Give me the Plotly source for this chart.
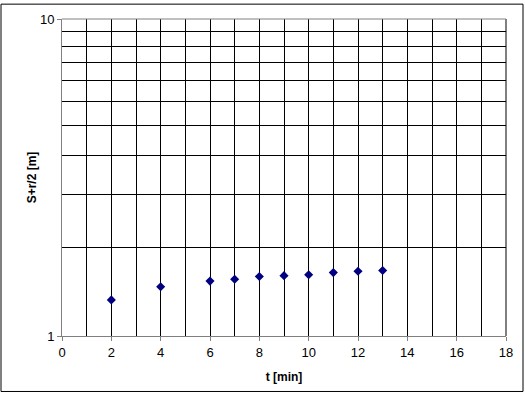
import plotly.graph_objects as go

t_min = [2, 4, 6, 7, 8, 9, 10, 11, 12, 13]
s_val = [1.30, 1.43, 1.49, 1.51, 1.54, 1.55, 1.56, 1.585, 1.60, 1.61]
x_ticks = [0, 2, 4, 6, 8, 10, 12, 14, 16, 18]
y_ticks = [1, 10]
y_minor = [1.9, 2.8, 3.7, 4.6, 5.5, 6.4, 7.3, 8.2, 9.1]

fig = go.Figure()
fig.add_trace(go.Scatter(
    x=t_min, y=s_val, mode="markers",
    marker=dict(symbol="diamond", size=7, color="#000080"),
    showlegend=False,
))

W, H = 525, 394
L, R, T, B = 62, 19, 16, 58
pw, ph = W - L - R, H - T - B

fig.update_layout(
    width=W, height=H,
    margin=dict(l=L, r=R, t=T, b=B),
    paper_bgcolor="white", plot_bgcolor="white",
    font=dict(family="Arial, Liberation Sans, sans-serif", size=13, color="black"),
    xaxis=dict(
        range=[0, 18], tickvals=x_ticks, showgrid=True, gridcolor="black", gridwidth=1,
        minor=dict(dtick=1, tick0=0, showgrid=True, gridcolor="black", gridwidth=1),
        showline=True, linecolor="#808080", linewidth=1,
        ticks="outside", ticklen=4, tickcolor="#808080",
        zeroline=False,
        title=dict(text="<b>t [min]</b>", font=dict(size=12), standoff=14),
    ),
    yaxis=dict(
        type="log", range=[0, 1], tickvals=y_ticks, ticktext=["1", "10"],
        showgrid=False,
        minor=dict(tickvals=y_minor, showgrid=True, gridcolor="black", gridwidth=1),
        showline=True, linecolor="#808080", linewidth=1,
        ticks="outside", ticklen=4, tickcolor="#808080",
        zeroline=False,
        title=dict(text="<b>S+r/2 [m]</b>", font=dict(size=12), standoff=0),
    ),
    shapes=[
        dict(type="rect", xref="paper", yref="paper",
             x0=(1 - L) / pw, x1=(W - 2 - L) / pw,
             y0=-(H - 2 - T - ph) / ph, y1=1 + (T - 1) / ph,
             line=dict(color="black", width=1), layer="above"),
        dict(type="line", xref="paper", yref="paper", x0=1, x1=1, y0=0, y1=1,
             line=dict(color="black", width=1), layer="above"),
        dict(type="line", xref="paper", yref="paper", x0=0, x1=1, y0=1, y1=1,
             line=dict(color="#808080", width=1), layer="above"),
    ],
)

fig.write_html("out.html")
